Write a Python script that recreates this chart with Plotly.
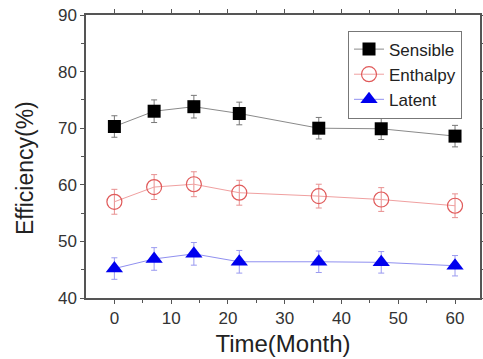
import plotly.graph_objects as go

months = [0, 7, 14, 22, 36, 47, 60]
sensible = [70.3, 73.0, 73.8, 72.6, 70.0, 69.9, 68.6]
sensible_err = [1.9, 2.0, 2.0, 2.0, 1.9, 1.9, 1.9]
enthalpy = [57.0, 59.6, 60.1, 58.6, 58.0, 57.4, 56.3]
enthalpy_err = [2.2, 2.2, 2.2, 2.2, 2.1, 2.1, 2.1]
latent = [45.2, 46.9, 47.8, 46.4, 46.4, 46.3, 45.7]
latent_err = [1.9, 2.0, 2.0, 2.0, 1.9, 1.9, 1.8]

fig = go.Figure()
fig.add_trace(go.Scatter(
    x=months, y=sensible, name="Sensible", mode="lines+markers",
    line=dict(color="#8a8a8a", width=1),
    marker=dict(symbol="square", size=13, color="black"),
    error_y=dict(type="data", array=sensible_err, color="#777777", thickness=1, width=3),
))
fig.add_trace(go.Scatter(
    x=months, y=enthalpy, name="Enthalpy", mode="lines+markers",
    line=dict(color="#f0a0a0", width=1),
    marker=dict(symbol="circle-open", size=15, color="#e05a5a", line=dict(width=1.2)),
    error_y=dict(type="data", array=enthalpy_err, color="#e89090", thickness=1, width=3),
))
fig.add_trace(go.Scatter(
    x=months, y=latent, name="Latent", mode="lines+markers",
    line=dict(color="#9090f0", width=1),
    marker=dict(symbol="triangle-up", size=15, color="#0000ee"),
    error_y=dict(type="data", array=latent_err, color="#9a9af0", thickness=1, width=3),
))

axis_common = dict(
    showline=True, linecolor="#555555", linewidth=1.5, mirror="ticks",
    ticks="outside", ticklen=4, tickcolor="#555555", tickwidth=1,
    showgrid=False, zeroline=False,
    tickfont=dict(family="Arial, Liberation Sans", size=17, color="#333333"),
)

fig.update_layout(
    width=483, height=359,
    margin=dict(l=86, r=3, t=15, b=61),
    paper_bgcolor="white", plot_bgcolor="white",
    font=dict(family="Arial, Liberation Sans", color="#222222"),
    xaxis=dict(range=[-5, 64.4], tickvals=[0, 10, 20, 30, 40, 50, 60],
               minor=dict(tickvals=[5, 15, 25, 35, 45, 55], ticks="outside", ticklen=3, tickcolor="#555555"),
               title=dict(text="Time(Month)", font=dict(size=24, color="#222222"), standoff=8),
               automargin=False,
               **axis_common),
    yaxis=dict(range=[40, 90], tickvals=[40, 50, 60, 70, 80, 90],
               minor=dict(tickvals=[45, 55, 65, 75, 85], ticks="outside", ticklen=3, tickcolor="#555555"),
               automargin=False,
               **axis_common),
    annotations=[dict(text="Efficiency(%)", xref="paper", yref="paper",
                      x=-0.155, y=0.459, xanchor="center", yanchor="middle",
                      textangle=-90, showarrow=False,
                      font=dict(family="Arial, Liberation Sans", size=23, color="#222222"))],
    legend=dict(x=0.665, y=0.945, xanchor="left", yanchor="top",
                bordercolor="#777777", borderwidth=1, bgcolor="white",
                font=dict(family="Arial, Liberation Sans", size=17, color="#222222"),
                itemwidth=30, tracegroupgap=0),
    showlegend=True,
)

fig.write_html("out.html", config={"displayModeBar": False},
               post_script="document.body.style.margin='0';document.body.style.padding='0';")
